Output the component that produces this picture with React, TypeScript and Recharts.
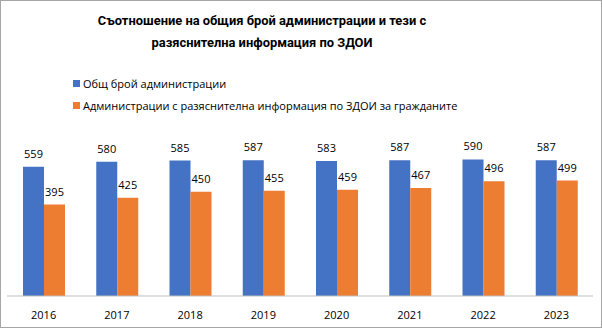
import { BarChart, Bar, XAxis, YAxis, LabelList } from 'recharts';

const years = ['2016', '2017', '2018', '2019', '2020', '2021', '2022', '2023'];
const totalAdmins = [559, 580, 585, 587, 583, 587, 590, 587];
const withInfo = [395, 425, 450, 455, 459, 467, 496, 499];

const seriesNames = {
  total: 'Общ брой администрации',
  info: 'Администрации с разяснителна информация по ЗДОИ за гражданите',
};

const COLORS = {
  total: '#4472C4',
  info: '#ED7D31',
};

const FONT = '"Open Sans", "Noto Sans", sans-serif';
const TITLE_FONT = 'Roboto, "Open Sans", sans-serif';

const chartData = years.map((year, i) => ({
  year,
  total: totalAdmins[i],
  info: withInfo[i],
}));

export default function App() {
  return (
    <div
      style={{
        position: 'fixed',
        left: 0,
        top: 0,
        width: 602,
        height: 328,
        boxSizing: 'border-box',
        border: '1px solid #a6a6a6',
        background: '#fff',
        fontFamily: FONT,
      }}
    >
      <div
        style={{
          position: 'absolute',
          left: 11,
          width: 500,
          top: 9,
          textAlign: 'center',
          whiteSpace: 'nowrap',
          fontFamily: TITLE_FONT,
          fontWeight: 'bold',
          fontSize: 12.9,
          lineHeight: '22px',
          color: '#000',
        }}
      >
        Съотношение на общия брой администрации и тези с
        <br />
        разяснителна информация по ЗДОИ
      </div>

      <div style={{ position: 'absolute', left: 72, top: 71, fontSize: 11, color: '#000' }}>
        {(['total', 'info'] as const).map((key) => (
          <div key={key} style={{ display: 'flex', alignItems: 'center', height: 22 }}>
            <span style={{ width: 7, height: 7, background: COLORS[key], marginRight: 3 }} />
            <span>{seriesNames[key]}</span>
          </div>
        ))}
      </div>

      <div style={{ position: 'absolute', left: -1, top: -1 }}>
        <BarChart
          width={602}
          height={328}
          data={chartData}
          margin={{ top: 134, right: 9, bottom: 12, left: 7 }}
          barGap={0}
          barSize={21}
        >
          <XAxis
            dataKey="year"
            height={20}
            axisLine={{ stroke: '#bfbfbf' }}
            tickLine={false}
            tick={{ fill: '#000', fontSize: 11, fontFamily: FONT }}
            tickMargin={9}
          />
          <YAxis hide domain={[0, 700]} />
          <Bar dataKey="total" fill={COLORS.total} isAnimationActive={false}>
            <LabelList dataKey="total" position="top" offset={9} fill="#000" fontSize={11} fontFamily={FONT} />
          </Bar>
          <Bar dataKey="info" fill={COLORS.info} isAnimationActive={false}>
            <LabelList dataKey="info" position="top" offset={9} fill="#000" fontSize={11} fontFamily={FONT} />
          </Bar>
        </BarChart>
      </div>
    </div>
  );
}
